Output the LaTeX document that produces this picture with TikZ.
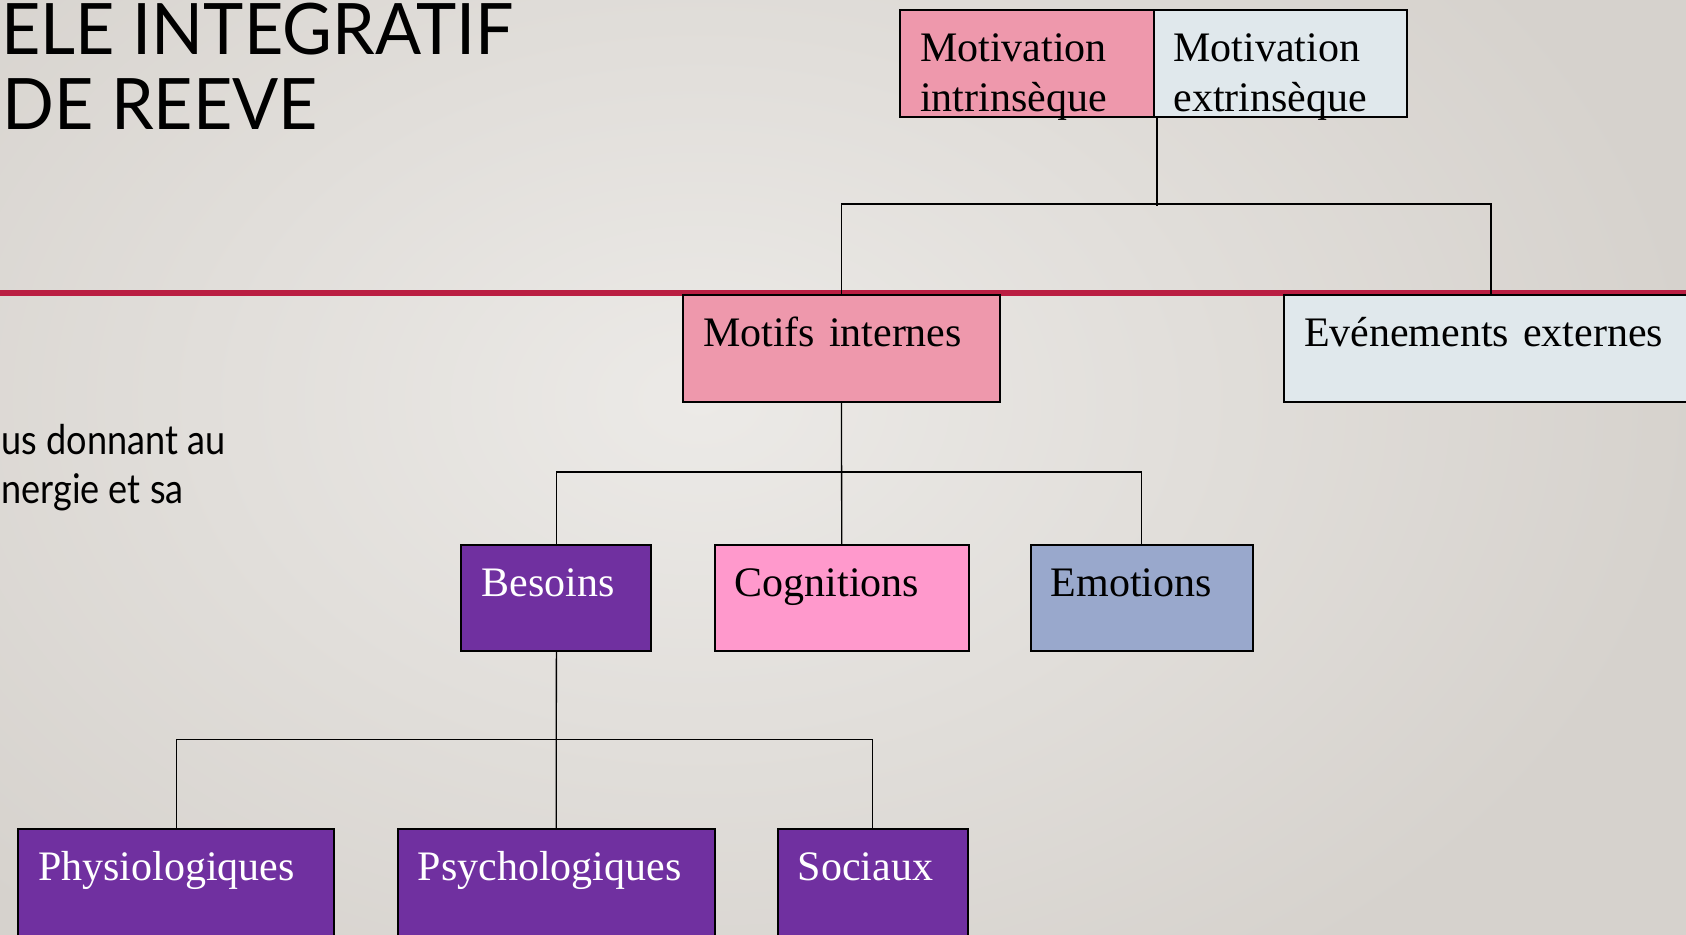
\documentclass[tikz,border=0pt]{standalone}
\usepackage{fontspec}
\setmainfont{Liberation Serif}
\newfontfamily\titlefont[FakeStretch=0.96]{Lato}
\newfontfamily\bodyfont[FakeStretch=0.88]{Lato}
\definecolor{bgdark}{RGB}{214,210,205}
\definecolor{bglight}{RGB}{236,234,231}
\definecolor{redline}{RGB}{186,30,66}
\definecolor{pinkA}{RGB}{238,152,172}
\definecolor{lightB}{RGB}{224,232,236}
\definecolor{purpleC}{RGB}{112,48,160}
\definecolor{pinkD}{RGB}{255,153,204}
\definecolor{blueE}{RGB}{153,168,204}
\tikzset{
  box/.style={rectangle, draw=black, line width=1pt, anchor=north west,
    inner xsep=10pt, inner ysep=0pt, align=left, text height=25.5pt,
    font=\fontsize{21}{25}\selectfont},
  conn/.style={draw=black, line width=0.65pt},
  titletext/.style={font=\titlefont\fontsize{35.5}{40}\selectfont, inner sep=0pt},
  bodytext/.style={font=\bodyfont\fontsize{20.5}{24}\selectfont, inner sep=0pt}
}
\begin{document}
\begin{tikzpicture}[x=0.5pt,y=-0.5pt]
\useasboundingbox (0,0) rectangle (1686,934);
\clip (0,0) rectangle (1686,934);
\shade[inner color=bglight, outer color=bgdark] (-300,-300) rectangle (1700,1100);
% red rule
\fill[redline] (0,290) rectangle (1686,296);
% title and body text
\node[titletext, anchor=base west] (t1) at (1,54) {ELE INTEGRATIF};
\node[titletext, anchor=base west] (t2) at (2,129) {DE REEVE};
\node[bodytext, anchor=base west] (b1) at (1,454) {us donnant au};
\node[bodytext, anchor=base west] (b2) at (1,503.3) {nergie et sa};
% boxes
\node[box, fill=pinkA, text width=106.75pt, text depth=28pt] (MI) at (899,9.3) {Motivation\\intrinsèque};
\node[box, fill=lightB, text width=106.75pt, text depth=28pt] (ME) at (1152.5,9.3) {Motivation\\extrinsèque};
\node[box, fill=pinkA, text width=138.5pt, text depth=28pt] (MotI) at (682,294) {Motifs internes};
\node[box, fill=lightB, text width=187pt, text depth=28pt] (EvE) at (1283,294) {Evénements externes};
\node[box, fill=purpleC, text=white, text width=75pt, text depth=27.5pt] (Bes) at (460.4,544) {Besoins};
\node[box, fill=pinkD, text width=107pt, text depth=27.5pt] (Cog) at (713.7,544) {Cognitions};
\node[box, fill=blueE, text width=91pt, text depth=27.5pt] (Emo) at (1029.8,544) {Emotions};
\node[box, fill=purpleC, text=white, text width=138pt, text depth=44.5pt] (Phy) at (17.2,828.3) {Physiologiques};
\node[box, fill=purpleC, text=white, text width=138.5pt, text depth=44.5pt] (Psy) at (396.7,828.3) {Psychologiques};
\node[box, fill=purpleC, text=white, text width=75pt, text depth=44.5pt] (Soc) at (776.8,828.3) {Sociaux};
% connectors
\draw[conn] ([xshift=2.25pt]ME.south west) -- ++(0,88);
\draw[conn] (MotI.north) -- ++(0,-90) -| (EvE.north);
\draw[conn] (MotI.south) -- (Cog.north);
\draw[conn] (Bes.north) -- ++(0,-72) -| (Emo.north);
\draw[conn] (Bes.south) -- (Psy.north);
\draw[conn] (Phy.north) -- ++(0,-89) -| (Soc.north);
\end{tikzpicture}
\end{document}
